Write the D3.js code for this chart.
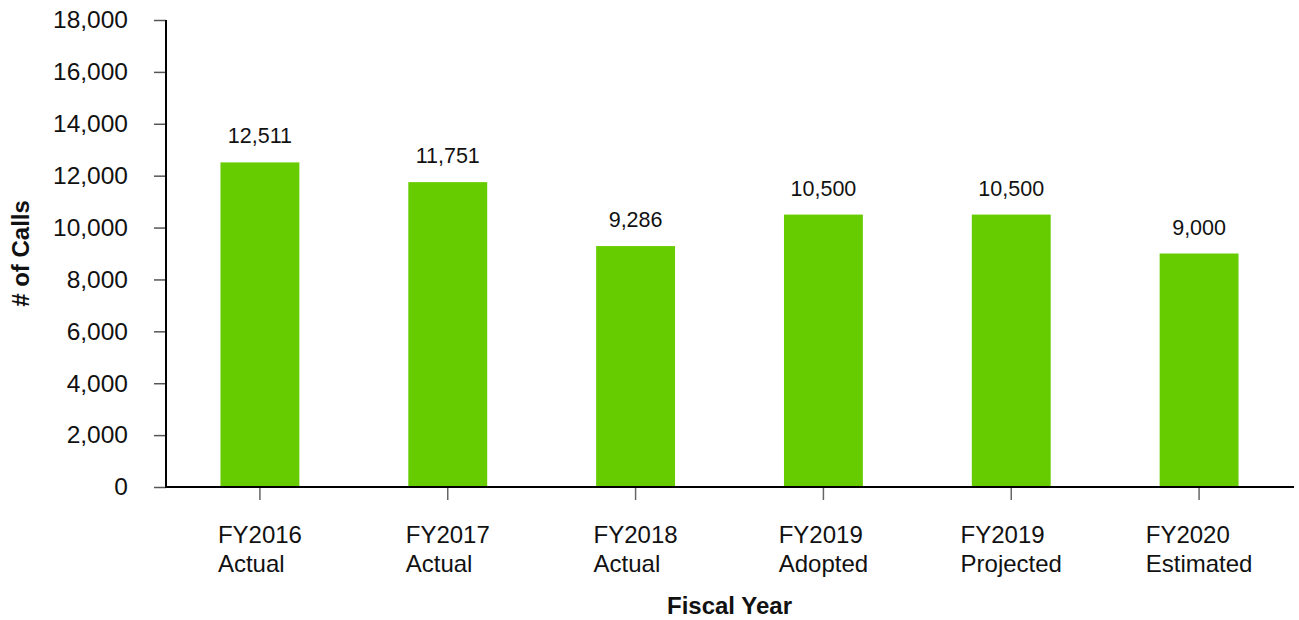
<!DOCTYPE html>
<html>
<head>
<meta charset="utf-8">
<script src="https://cdn.jsdelivr.net/npm/d3@7"></script>
<style>
  html, body { margin: 0; padding: 0; background: #fff; }
  svg { display: block; font-family: "Liberation Sans", Arial, sans-serif; }
</style>
</head>
<body>
<svg id="chart" width="1299" height="620"></svg>
<script>
const categories = [
  ["FY2016", "Actual"],
  ["FY2017", "Actual"],
  ["FY2018", "Actual"],
  ["FY2019", "Adopted"],
  ["FY2019", "Projected"],
  ["FY2020", "Estimated"]
];
const values = [12511, 11751, 9286, 10500, 10500, 9000];
const yTicks = [0, 2000, 4000, 6000, 8000, 10000, 12000, 14000, 16000, 18000];
const yTitle = "# of Calls";
const xTitle = "Fiscal Year";

const svg = d3.select("#chart");
const margin = { left: 166, right: 6, top: 20, bottom: 133 };
const W = 1299, H = 620;
const x0 = margin.left, x1 = W - margin.right;
const yTop = margin.top, yBot = H - margin.bottom;

const x = d3.scaleBand()
  .domain(categories.map((d, i) => i))
  .range([x0, x1])
  .paddingInner(0.58)
  .paddingOuter(0.29);
const y = d3.scaleLinear().domain([0, 18000]).range([yBot, yTop]);
const fmt = d3.format(",");

// bars
svg.append("g").selectAll("rect").data(values).join("rect")
  .attr("x", (d, i) => x(i))
  .attr("y", d => y(d))
  .attr("width", x.bandwidth())
  .attr("height", d => y(0) - y(d))
  .attr("fill", "#66CC00");

// value labels
svg.append("g").selectAll("text").data(values).join("text")
  .attr("x", (d, i) => x(i) + x.bandwidth() / 2)
  .attr("y", d => y(d) - 19)
  .attr("text-anchor", "middle")
  .attr("font-size", 21.5)
  .attr("fill", "#111")
  .text(d => fmt(d));

// y axis
const yAxis = svg.append("g").attr("transform", `translate(${x0},0)`)
  .call(d3.axisLeft(y).tickValues(yTicks).tickFormat(fmt).tickSize(12).tickPadding(26));
yAxis.select(".domain").remove();
yAxis.selectAll(".tick line").attr("stroke", "#555").attr("stroke-width", 1.5);
yAxis.selectAll(".tick text").attr("font-size", 24.5).attr("fill", "#111")
  .attr("font-family", "Liberation Sans, Arial, sans-serif");

// x axis ticks
const xAxis = svg.append("g").attr("transform", `translate(0,${yBot})`)
  .call(d3.axisBottom(x).tickSize(13).tickFormat(""));
xAxis.select(".domain").remove();
xAxis.selectAll(".tick line").attr("stroke", "#666").attr("stroke-width", 1.5);

// x labels (two lines, left-aligned block centred on the tick)
const xl = svg.append("g").selectAll("text").data(categories).join("text")
  .attr("y", yBot + 56)
  .attr("text-anchor", "start")
  .attr("font-size", 24)
  .attr("fill", "#111");
xl.append("tspan").attr("class", "l1").text(d => d[0]);
xl.append("tspan").attr("class", "l2").attr("dy", 29).text(d => d[1]);
xl.each(function(d, i) {
  const t = d3.select(this);
  const w = Math.max(t.select(".l1").node().getComputedTextLength(),
                     t.select(".l2").node().getComputedTextLength());
  const left = x(i) + x.bandwidth() / 2 - w / 2;
  t.selectAll("tspan").attr("x", left);
});

// axis lines
svg.append("line").attr("x1", x0).attr("x2", x0).attr("y1", yTop).attr("y2", yBot + 1)
  .attr("stroke", "#000").attr("stroke-width", 2);
svg.append("line").attr("x1", x0 - 1).attr("x2", x1 + 1).attr("y1", yBot).attr("y2", yBot)
  .attr("stroke", "#000").attr("stroke-width", 2);

// titles
svg.append("text")
  .attr("transform", `translate(29,${(yTop + yBot) / 2}) rotate(-90)`)
  .attr("text-anchor", "middle")
  .attr("font-size", 24).attr("font-weight", "bold").attr("fill", "#111")
  .text(yTitle);
svg.append("text")
  .attr("x", (x0 + x1) / 2).attr("y", 614)
  .attr("text-anchor", "middle")
  .attr("font-size", 24).attr("font-weight", "bold").attr("fill", "#111")
  .text(xTitle);
</script>
</body>
</html>
